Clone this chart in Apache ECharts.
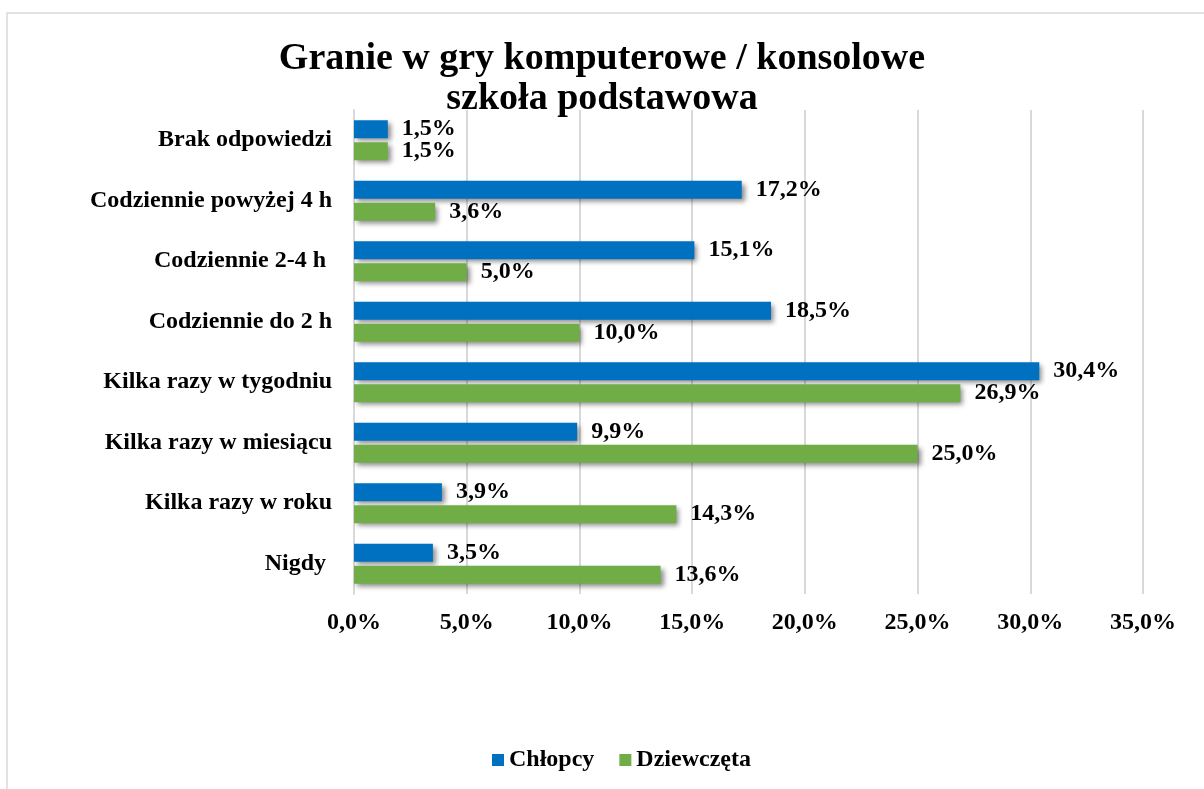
<!DOCTYPE html>
<html>
<head>
<meta charset="utf-8">
<script src="https://cdn.jsdelivr.net/npm/echarts@6/dist/echarts.min.js"></script>
<style>
  html, body { margin: 0; padding: 0; background: #fff; }
  #main { width: 1204px; height: 789px; }
</style>
</head>
<body>
<div id="main"></div>
<script>
// data, top to bottom
const categories = [
  'Brak odpowiedzi',
  'Codziennie powyżej 4 h',
  'Codziennie 2-4 h ',
  'Codziennie do 2 h',
  'Kilka razy w tygodniu',
  'Kilka razy w miesiącu',
  'Kilka razy w roku',
  'Nigdy '
]
const chlopcy = [1.5, 17.2, 15.1, 18.5, 30.4, 9.9, 3.9, 3.5]
const dziewczeta = [1.5, 3.6, 5.0, 10.0, 26.9, 25.0, 14.3, 13.6]

const font = '"Liberation Serif", "Times New Roman", serif'
const pct = v => Number(v).toFixed(1).replace('.', ',') + '%'

var myChart = echarts.init(document.getElementById('main'))

const barSeries = (name, data, color) => ({
  name: name,
  type: 'bar',
  data: data,
  barGap: '22%',
  barCategoryGap: '34%',
  itemStyle: {
    color: color,
    shadowColor: 'rgba(0,0,0,0.45)',
    shadowBlur: 5,
    shadowOffsetX: 3,
    shadowOffsetY: 3
  },
  label: {
    show: true,
    position: 'right',
    distance: 14,
    formatter: p => pct(p.value),
    fontFamily: font,
    fontWeight: 'bold',
    fontSize: 24,
    color: '#000'
  }
})

var option = {
  animation: false,
  title: {
    text: 'Granie w gry komputerowe / konsolowe\nszkoła podstawowa',
    left: 'center',
    top: 34,
    textStyle: {
      fontFamily: font,
      fontWeight: 'bold',
      fontSize: 38,
      lineHeight: 40,
      color: '#000'
    }
  },
  legend: {
    bottom: 12,
    left: 487,
    itemWidth: 12,
    itemHeight: 12,
    itemGap: 25,
    icon: 'rect',
    textStyle: {
      fontFamily: font,
      fontWeight: 'bold',
      fontSize: 24,
      color: '#000'
    },
    data: ['Chłopcy', 'Dziewczęta']
  },
  graphic: [
    {
      type: 'rect',
      shape: { x: 7, y: 13, width: 1400, height: 1000 },
      style: { fill: 'none', stroke: '#d9d9d9', lineWidth: 1.5 },
      silent: true
    }
  ],
  grid: {
    left: 354,
    right: 61,
    top: 110,
    height: 484
  },
  xAxis: {
    type: 'value',
    min: 0,
    max: 35,
    interval: 5,
    axisLine: { show: false },
    axisTick: { show: false },
    splitLine: { lineStyle: { color: '#d9d9d9', width: 2 } },
    axisLabel: {
      margin: 17,
      formatter: v => pct(v),
      fontFamily: font,
      fontWeight: 'bold',
      fontSize: 24,
      color: '#000'
    }
  },
  yAxis: {
    type: 'category',
    inverse: true,
    data: categories,
    axisLine: { lineStyle: { color: '#d9d9d9', width: 2 } },
    axisTick: { show: false },
    axisLabel: {
      margin: 22,
      fontFamily: font,
      fontWeight: 'bold',
      fontSize: 24,
      color: '#000'
    }
  },
  series: [
    barSeries('Chłopcy', chlopcy, '#0070c0'),
    barSeries('Dziewczęta', dziewczeta, '#70ad47')
  ]
}

option && myChart.setOption(option)
</script>
</body>
</html>
